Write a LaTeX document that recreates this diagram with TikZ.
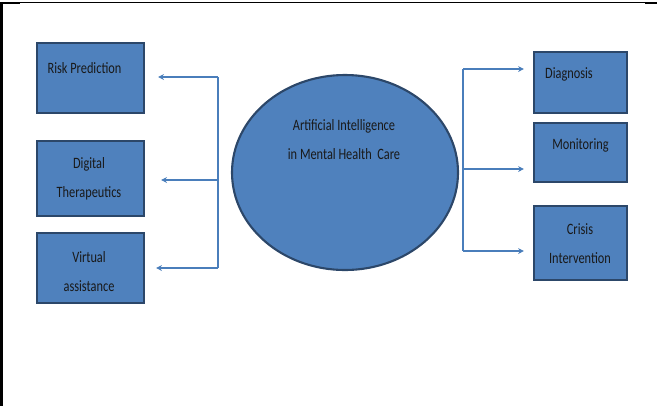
\documentclass[tikz,border=0pt]{standalone}
\usepackage{fontspec}
\setmainfont{Carlito}[FakeStretch=0.78]
\usetikzlibrary{shapes.geometric,arrows.meta}
\definecolor{boxblue}{HTML}{4F81BD}
\definecolor{boxedge}{HTML}{2C4769}
\definecolor{linkblue}{HTML}{4A7EBB}
\tikzset{
  box/.style={draw=boxedge,fill=boxblue,line width=1.8pt,inner sep=0pt},
  lbl/.style={text=black!90,align=center,inner sep=0pt,font=\fontsize{13.5}{24.7}\selectfont},
  link/.style={draw=linkblue,line width=.9pt,-{Stealth[length=5pt,width=5pt]}},
  spine/.style={draw=linkblue,line width=.9pt}
}
\begin{document}
\begin{tikzpicture}[x=.03cm,y=-.03cm]
\useasboundingbox (0,0) rectangle (657,406);
\draw[black,line width=.8pt] (0,2.5) -- (657,2.5);
\draw[black,line width=1.8pt] (1.5,2) -- (1.5,406);
\draw[black,line width=1.8pt] (0,3) -- (20,3);
\draw[black,line width=1.8pt] (645,3) -- (657,3);
\node[box,minimum width=3.21cm,minimum height=2.1cm] (risk) at (90.5,78) {};
\node[box,minimum width=3.21cm,minimum height=2.25cm] (digi) at (90.5,178.5) {};
\node[box,minimum width=3.21cm,minimum height=2.1cm] (virt) at (90.5,268) {};
\node[box,minimum width=2.79cm,minimum height=1.83cm] (diag) at (580.5,82.5) {};
\node[box,minimum width=2.79cm,minimum height=1.77cm] (moni) at (580.5,152.5) {};
\node[box,minimum width=2.79cm,minimum height=2.22cm] (cris) at (580.5,243) {};
\node[box,ellipse,minimum width=6.78cm,minimum height=5.85cm] (ai) at (345,172.5) {};
\node[lbl] (risktxt) at (84.5,68) {Risk Prediction};
\node[lbl] (digitxt) at (89,178.5) {Digital\\Therapeutics};
\node[lbl] (virttxt) at (89,271.5) {Virtual\\assistance};
\node[lbl] (aitxt) at (344,140) {Artificial Intelligence\\in Mental Health\ \ Care};
\node[lbl] (diagtxt) at (569,74) {Diagnosis};
\node[lbl] (monitxt) at (580.5,145) {Monitoring};
\node[lbl] (cristxt) at (580,243.5) {Crisis\\Intervention};
\coordinate (lt) at (218,77);
\coordinate (lm) at (218,180);
\coordinate (lb) at (218,268);
\coordinate (rt) at (463,69);
\coordinate (rm) at (463,169);
\coordinate (rb) at (463,251);
\path[spine] (lt) -- (lb);
\path[spine] (rt) -- (rb);
\draw[link,shorten >=13*.03cm] (lt) -- (lt -| risk.east);
\draw[link,shorten >=16*.03cm] (lm) -- (lm -| digi.east);
\draw[link,shorten >=11*.03cm] (lb) -- (lb -| virt.east);
\draw[link,shorten >=9*.03cm] (rt) -- (rt -| diag.west);
\draw[link,shorten >=9*.03cm] (rm) -- (rm -| moni.west);
\draw[link,shorten >=9*.03cm] (rb) -- (rb -| cris.west);
\end{tikzpicture}
\end{document}
